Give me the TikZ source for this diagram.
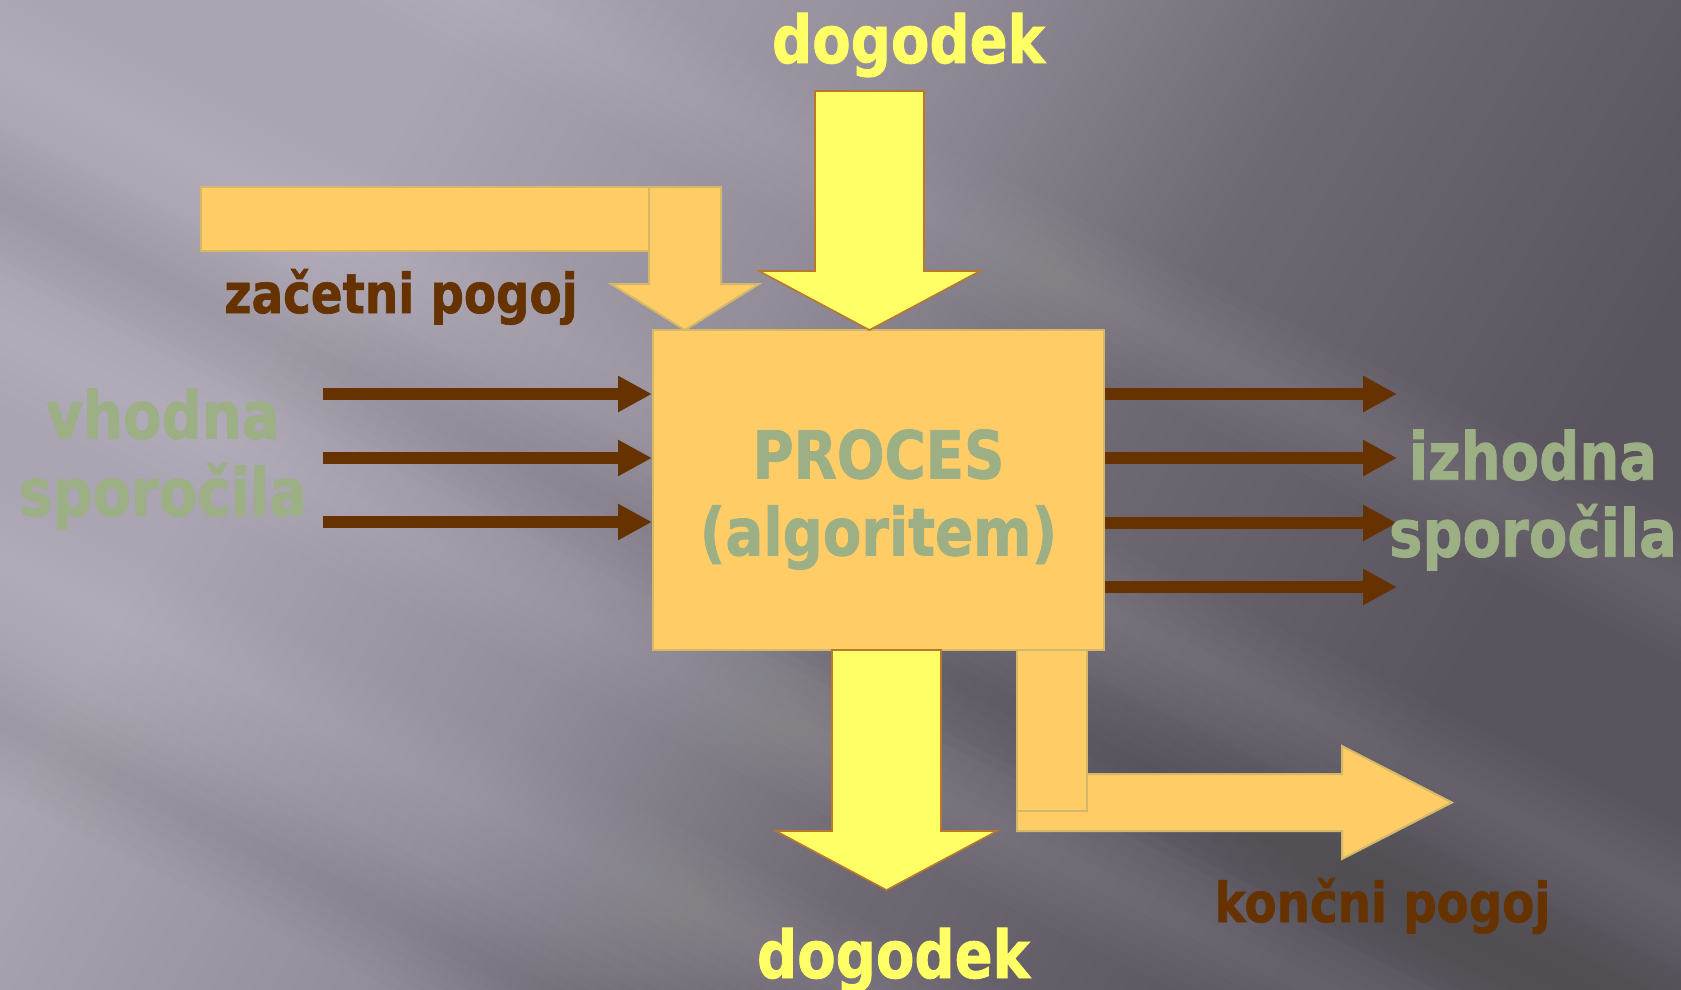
\documentclass[tikz,border=0pt]{standalone}
\usepackage{fontspec}
\newfontfamily\lblfont{DejaVu Sans}[FakeStretch=0.85,FakeBold=1.2]
\usetikzlibrary{arrows.meta,calc}
\definecolor{orangefill}{HTML}{FFCC66}
\definecolor{orangeline}{HTML}{D2B868}
\definecolor{yellowfill}{HTML}{FFFF66}
\definecolor{yellowline}{HTML}{B8782E}
\definecolor{brownc}{HTML}{663300}
\definecolor{greentext}{HTML}{9CAF85}
\definecolor{bgA}{HTML}{ABA5B3}
\definecolor{bgB}{HTML}{948E9A}
\definecolor{bgC}{HTML}{6E6973}
\definecolor{bgD}{HTML}{59545D}
\pgfdeclarehorizontalshading{bgsh}{100bp}{color(0bp)=(bgA); color(30bp)=(bgA); color(44bp)=(bgB); color(57bp)=(bgC); color(72bp)=(bgD); color(100bp)=(bgD)}
\tikzset{
  orangeblock/.style={fill=orangefill, draw=orangeline, line width=1pt, line join=miter},
  yellowblock/.style={fill=yellowfill, draw=yellowline, line width=0.8pt, line join=miter},
  msgarrow/.style={draw=brownc, line width=6pt, -{Triangle[length=17pt,width=17pt]}},
  procbox/.style={fill=orangefill, draw=orangeline, line width=1pt, minimum width=225.5pt, minimum height=160pt, inner sep=0pt, align=center},
  bigtext/.style={font=\lblfont\bfseries\fontsize{33pt}{38.5pt}\selectfont, text=greentext, inner sep=0pt},
  yellowtext/.style={font=\lblfont\bfseries\fontsize{33pt}{38pt}\selectfont, text=yellowfill, inner sep=0pt},
  browntext/.style={font=\lblfont\bfseries\fontsize{27.5pt}{32pt}\selectfont, text=brownc, inner sep=0pt}
}
% soft diagonal band: #1 = y at x=0 (pixels), #2 = colour, #3 = opacity per layer
\newcommand{\softstreak}[3]{%
  \foreach \w in {12,24,36,48,60,72}{%
    \fill[fill=#2, opacity=#3] (-20,#1-10-\w) -- (1700,#1+850-\w) -- (1700,#1+850+\w) -- (-20,#1-10+\w) -- cycle;}}
\begin{document}
\begin{tikzpicture}[x=0.5pt,y=-0.5pt]
\useasboundingbox (0,0) rectangle (1681,990);
% background
\shade[shading=bgsh, shading angle=-30] (0,0) rectangle (1681,990);
\begin{scope}
\clip (0,0) rectangle (1681,990);
\softstreak{-250}{white}{0.016}
\softstreak{60}{white}{0.016}
\softstreak{330}{white}{0.016}
\softstreak{560}{white}{0.016}
\softstreak{200}{black}{0.011}
\softstreak{720}{black}{0.011}
\end{scope}

% process box
\node[procbox, bigtext] (proc) at (878.5,490) {\rule{0pt}{34pt}PROCES\\(algoritem)};

% event in (top yellow arrow)
\draw[yellowblock] (815,91) -- (924,91) -- (924,271) -- (980,271) -- (869.5,330) -- (759,271) -- (815,271) -- cycle;

% initial condition (L-shaped arrow)
\draw[orangeblock] (201,187) rectangle (721,251);
\draw[orangeblock] (649,187) -- (721,187) -- (721,284) -- (759,284) -- (685,330) -- (611,284) -- (649,284) -- cycle;

% event out (bottom yellow arrow)
\draw[yellowblock] (832,650) -- (941,650) -- (941,831) -- (997,831) -- (886.5,890) -- (776,831) -- (832,831) -- cycle;

% final condition (L-shaped arrow)
\draw[orangeblock] (1017,774) -- (1342,774) -- (1342,746) -- (1452,802.5) -- (1342,859) -- (1342,831) -- (1017,831) -- cycle;
\draw[orangeblock] (1017,650) rectangle (1087,811);

% input messages
\coordinate (in1) at (323,394);
\coordinate (in2) at (323,458);
\coordinate (in3) at (323,522);
\foreach \c in {in1,in2,in3} \draw[msgarrow] (\c) -- (\c -| proc.west);

% output messages
\coordinate (out1) at (1397,394);
\coordinate (out2) at (1397,458);
\coordinate (out3) at (1397,523);
\coordinate (out4) at (1397,587);
\foreach \c in {out1,out2,out3,out4} \draw[msgarrow] (\c -| proc.east) -- (\c);

% labels
\node[yellowtext, anchor=base] (evin) at (908.5,63) {dogodek};
\node[yellowtext, anchor=base] (evout) at (893.5,978) {dogodek};
\node[browntext, anchor=base] (startc) at (401,313) {začetni pogoj};
\node[browntext, anchor=base] (endc) at (1382.5,922) {končni pogoj};
\node[bigtext, align=center] (inmsg) at (163,459) {vhodna\\sporočila};
\node[bigtext, align=center] (outmsg) at (1533,500) {izhodna\\sporočila};
\end{tikzpicture}
\end{document}
